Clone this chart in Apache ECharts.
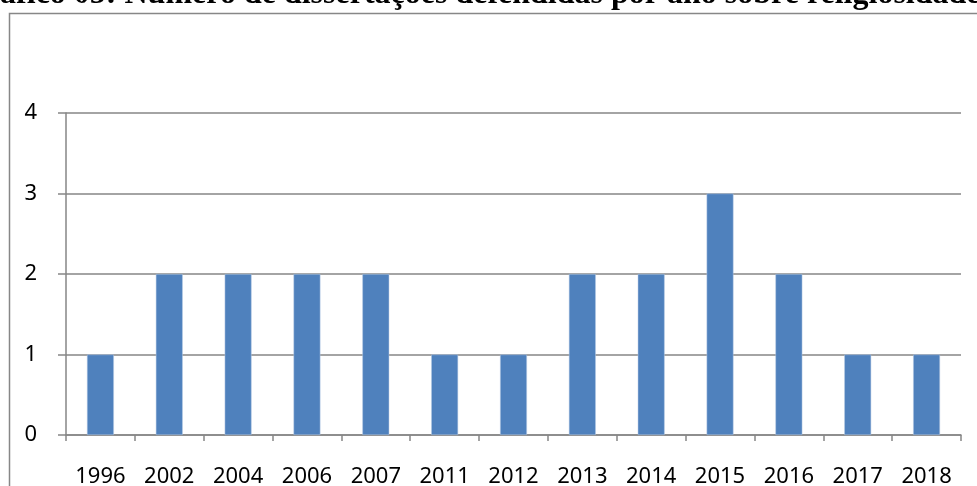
<!DOCTYPE html>
<html><head><meta charset="utf-8">
<script src="https://cdn.jsdelivr.net/npm/echarts@6/dist/echarts.min.js"></script>
<style>html,body{margin:0;padding:0;background:#fff}#c{width:977px;height:486px}</style>
</head><body><div id="c"></div>
<script>
const titleText = 'Gráfico 05: Número de dissertações defendidas por ano sobre religiosidade';
const years = ['1996','2002','2004','2006','2007','2011','2012','2013','2014','2015','2016','2017','2018'];
const counts = [1,2,2,2,2,1,1,2,2,3,2,1,1];
const yTicks = [0,1,2,3,4];

const chart = echarts.init(document.getElementById('c'));
chart.setOption({
  animation: false,
  backgroundColor: '#fff',
  graphic: [
    {type:'rect', shape:{x:9.5, y:13.5, width:1000, height:600}, style:{fill:'#fff', stroke:'#878787', lineWidth:1.5}, z:-1},
    {type:'text', x:-39, y:-5, style:{text:titleText, font:'bold 32px "Liberation Serif"', fill:'#000', verticalAlign:'middle', align:'left'}, z:10}
  ],
  grid: {left: 66, right: 16, top: 113, bottom: 51, outerBoundsMode: 'none', containLabel: false},
  xAxis: {
    type: 'category', data: years, boundaryGap: true,
    axisLine: {lineStyle:{color:'#868686', width:1.5}},
    axisTick: {show:true, length:6, lineStyle:{color:'#868686', width:1.5}},
    axisLabel: {color:'#000', fontFamily:'Noto Sans', fontSize:22, margin:31}
  },
  yAxis: {
    type: 'value', min: 0, max: 4, interval: 1,
    axisLine: {show:true, lineStyle:{color:'#868686', width:1.5}},
    axisTick: {show:true, length:8, lineStyle:{color:'#868686', width:1.5}},
    splitLine: {lineStyle:{color:'#868686', width:1.5}},
    axisLabel: {color:'#000', fontFamily:'Noto Sans', fontSize:22, margin:29,
      formatter: v => yTicks.includes(v) ? String(v) : ''}
  },
  series: [{
    type: 'bar', data: counts, barWidth: '39%',
    itemStyle: {color:'#4F81BD', borderColor:'#b7cbe4', borderWidth:0.5}
  }]
});
</script></body></html>
